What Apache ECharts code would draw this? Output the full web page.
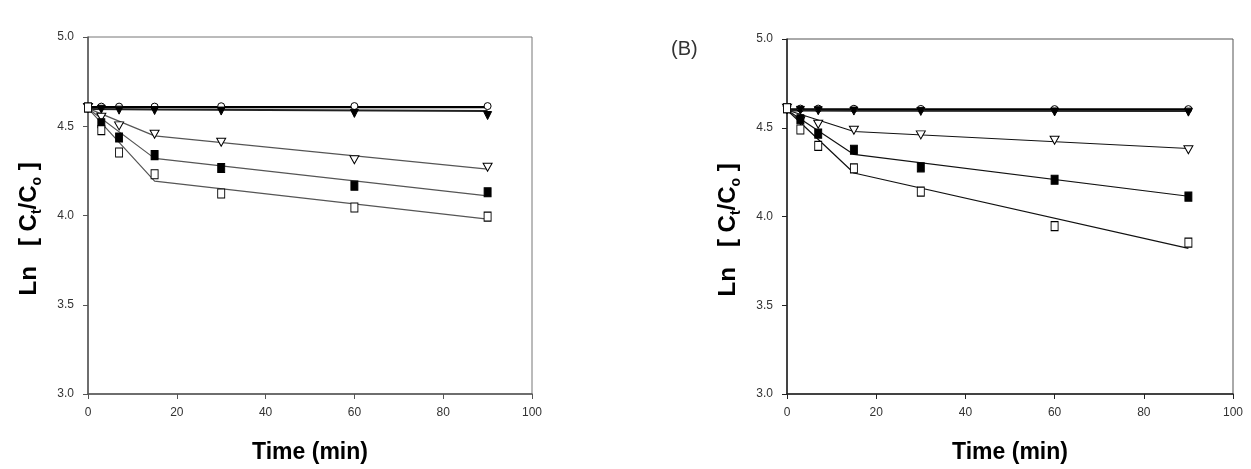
<!DOCTYPE html>
<html>
<head>
<meta charset="utf-8">
<script src="https://cdn.jsdelivr.net/npm/echarts@6/dist/echarts.min.js"></script>
<style>
  html, body { margin: 0; padding: 0; background: #fff; }
  #main { width: 1251px; height: 469px; }
</style>
</head>
<body>
<div id="main"></div>
<script>
// sampling times (min)
const times = [0, 3, 7, 15, 30, 60, 90]
const fitTimes = [0, 15, 90]

const xTicks = [0, 20, 40, 60, 80, 100]
const yTicks = [3.0, 3.5, 4.0, 4.5, 5.0]

// panel A - measured points
const aCircle = [4.605, 4.61, 4.61, 4.61, 4.612, 4.613, 4.613]
const aFilledTri = [4.60, 4.595, 4.59, 4.588, 4.585, 4.572, 4.56]
const aOpenTri = [4.605, 4.55, 4.502, 4.455, 4.41, 4.312, 4.27]
const aFilledSq = [4.605, 4.517, 4.437, 4.338, 4.266, 4.167, 4.13]
const aOpenSq = [4.605, 4.478, 4.353, 4.231, 4.123, 4.045, 3.994]
// panel A - fitted lines
const aFitCircle = [4.607, 4.607, 4.607]
const aFitFilledTri = [4.597, 4.594, 4.585]
const aFitOpenTri = [4.60, 4.446, 4.26]
const aFitFilledSq = [4.60, 4.32, 4.11]
const aFitOpenSq = [4.60, 4.193, 3.98]

// panel B - measured points
const bCircle = [4.61, 4.608, 4.608, 4.607, 4.606, 4.605, 4.605]
const bFilledTri = [4.60, 4.598, 4.596, 4.594, 4.592, 4.589, 4.588]
const bOpenTri = [4.61, 4.54, 4.52, 4.486, 4.46, 4.43, 4.376]
const bFilledSq = [4.61, 4.548, 4.467, 4.376, 4.277, 4.207, 4.112]
const bOpenSq = [4.61, 4.49, 4.398, 4.271, 4.14, 3.946, 3.853]
// panel B - fitted lines
const bFitCircle = [4.604, 4.604, 4.604]
const bFitFilledTri = [4.597, 4.596, 4.594]
const bFitOpenTri = [4.60, 4.479, 4.383]
const bFitFilledSq = [4.60, 4.35, 4.114]
const bFitOpenSq = [4.60, 4.245, 3.82]

const pair = (xs, ys) => xs.map((x, i) => [x, ys[i]])

const chart = echarts.init(document.getElementById('main'))

function xAxisFor(gridIndex, color) {
  return {
    type: 'value',
    gridIndex: gridIndex,
    min: xTicks[0],
    max: xTicks[xTicks.length - 1],
    interval: xTicks[1] - xTicks[0],
    name: 'Time (min)',
    nameLocation: 'middle',
    nameGap: 47,
    nameTextStyle: { fontFamily: 'Liberation Sans', fontSize: 23, fontWeight: 'bold', color: '#000' },
    axisLine: { lineStyle: { color: color, width: 1.5 } },
    axisTick: { length: 5, lineStyle: { color: color } },
    axisLabel: { fontFamily: 'Liberation Sans', fontSize: 12, color: '#333', margin: 13 },
    splitLine: { show: false }
  }
}

function yAxisFor(gridIndex, color) {
  return {
    type: 'value',
    gridIndex: gridIndex,
    min: yTicks[0],
    max: yTicks[yTicks.length - 1],
    interval: yTicks[1] - yTicks[0],
    // trailing spaces push the rotated title slightly down, as in the source
    name: '{m|Ln   [ C}{s|t}{m|/C}{s|o}{m| ]    }',
    nameLocation: 'middle',
    nameRotate: 90,
    nameGap: 44,
    nameTextStyle: {
      rich: {
        m: { fontFamily: 'Liberation Sans', fontSize: 24, fontWeight: 'bold', color: '#000', lineHeight: 30 },
        s: { fontFamily: 'Liberation Sans', fontSize: 14, fontWeight: 'bold', color: '#000', lineHeight: 16, verticalAlign: 'bottom' }
      }
    },
    axisLine: { lineStyle: { color: color, width: 1.5 } },
    axisTick: { length: 5, lineStyle: { color: color } },
    axisLabel: { fontFamily: 'Liberation Sans', fontSize: 12, color: '#333', margin: 14, formatter: v => v.toFixed(1) },
    splitLine: { show: false }
  }
}

function fitLine(idx, ys, color, width) {
  return {
    type: 'line', xAxisIndex: idx, yAxisIndex: idx,
    data: pair(fitTimes, ys), showSymbol: false, silent: true,
    lineStyle: { color: color, width: width }, z: 2
  }
}

function points(idx, ys, symbol, fill, size, rotate) {
  return {
    type: 'scatter', xAxisIndex: idx, yAxisIndex: idx,
    data: pair(times, ys), symbol: symbol, symbolSize: size,
    symbolRotate: rotate || 0,
    itemStyle: { color: fill, borderColor: '#000', borderWidth: 1, opacity: 1 }, z: 3
  }
}

function panelSeries(idx, lineColor, d) {
  return [
    fitLine(idx, d.fitCircle, '#000', 2.2),
    fitLine(idx, d.fitFilledTri, '#222', 2),
    fitLine(idx, d.fitOpenTri, lineColor, 1.2),
    fitLine(idx, d.fitFilledSq, lineColor, 1.2),
    fitLine(idx, d.fitOpenSq, lineColor, 1.2),
    points(idx, d.circle, 'circle', '#fff', 7),
    points(idx, d.filledTri, 'triangle', '#000', [8, 8], 180),
    points(idx, d.openTri, 'triangle', '#fff', [9, 8], 180),
    points(idx, d.filledSq, 'rect', '#000', [7, 9]),
    points(idx, d.openSq, 'rect', '#fff', [7, 9])
  ]
}

const option = {
  backgroundColor: '#fff',
  animation: false,
  title: {
    text: '(B)', left: 666, top: 34,
    textStyle: { fontFamily: 'Liberation Sans', fontSize: 20, fontWeight: 'normal', color: '#333' }
  },
  grid: [
    { left: 88, top: 37, width: 444, height: 360, show: true, borderColor: '#777', borderWidth: 1 },
    { left: 787, top: 39, width: 446, height: 358, show: true, borderColor: '#555', borderWidth: 1 }
  ],
  xAxis: [xAxisFor(0, '#555'), xAxisFor(1, '#222')],
  yAxis: [yAxisFor(0, '#555'), yAxisFor(1, '#222')],
  series: [].concat(
    panelSeries(0, '#555', {
      circle: aCircle, filledTri: aFilledTri, openTri: aOpenTri, filledSq: aFilledSq, openSq: aOpenSq,
      fitCircle: aFitCircle, fitFilledTri: aFitFilledTri, fitOpenTri: aFitOpenTri,
      fitFilledSq: aFitFilledSq, fitOpenSq: aFitOpenSq
    }),
    panelSeries(1, '#111', {
      circle: bCircle, filledTri: bFilledTri, openTri: bOpenTri, filledSq: bFilledSq, openSq: bOpenSq,
      fitCircle: bFitCircle, fitFilledTri: bFitFilledTri, fitOpenTri: bFitOpenTri,
      fitFilledSq: bFitFilledSq, fitOpenSq: bFitOpenSq
    })
  )
}

chart.setOption(option)
</script>
</body>
</html>
